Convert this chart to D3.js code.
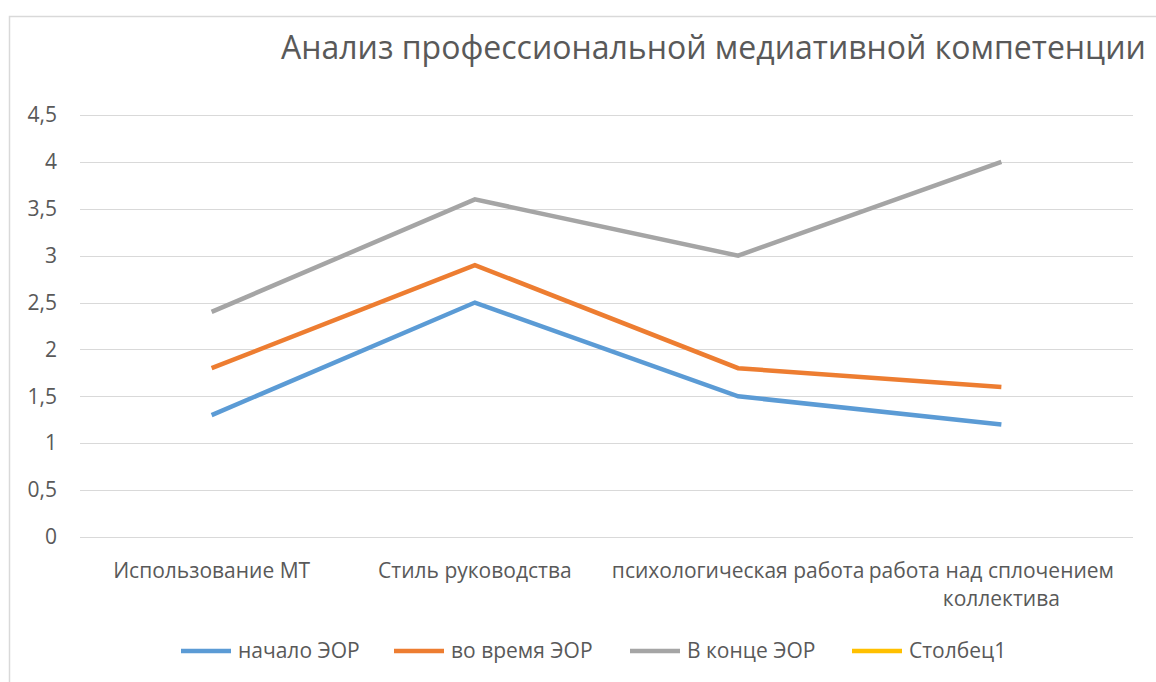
<!DOCTYPE html>
<html>
<head>
<meta charset="utf-8">
<script src="https://cdn.jsdelivr.net/npm/d3@7"></script>
<style>
  body { margin: 0; background: #fff; }
  svg { display: block; font-family: "Open Sans", sans-serif; }
</style>
</head>
<body>
<svg id="chart" width="1156" height="682"></svg>
<script>
// data
var categories = ["Использование МТ", "Стиль руководства", "психологическая работа", "работа над сплочением коллектива"];
var nachalo = [1.3, 2.5, 1.5, 1.2];
var voVremya = [1.8, 2.9, 1.8, 1.6];
var vKonce = [2.4, 3.6, 3.0, 4.0];
var stolbec1 = [null, null, null, null];
var seriesNames = ["начало ЭОР", "во время ЭОР", "В конце ЭОР", "Столбец1"];
var yTicks = [0, 0.5, 1, 1.5, 2, 2.5, 3, 3.5, 4, 4.5];

var colors = ["#5B9BD5", "#ED7D31", "#A5A5A5", "#FFC000"];
var allSeries = [nachalo, voVremya, vKonce, stolbec1];

var svg = d3.select("#chart");

// chart frame
svg.append("rect")
    .attr("x", 9.5).attr("y", 16.5)
    .attr("width", 1200).attr("height", 700)
    .attr("fill", "#fff")
    .attr("stroke", "#d9d9d9")
    .attr("stroke-width", 1.5);

var plotLeft = 80, plotRight = 1133, plotTop = 115, plotBottom = 537;

var x = d3.scaleBand().domain(categories).range([plotLeft, plotRight]);
var y = d3.scaleLinear().domain([0, 4.5]).range([plotBottom, plotTop]);

// gridlines
svg.append("g")
    .selectAll("line")
    .data(yTicks)
    .join("line")
      .attr("x1", plotLeft).attr("x2", plotRight)
      .attr("y1", function(d){ return Math.round(y(d)) + 0.5; })
      .attr("y2", function(d){ return Math.round(y(d)) + 0.5; })
      .attr("stroke", "#d9d9d9")
      .attr("stroke-width", 1);

// y axis labels
var yAxis = d3.axisLeft(y).tickValues(yTicks).tickSize(0).tickPadding(0)
    .tickFormat(function(d){ return String(d).replace(".", ","); });
var yg = svg.append("g").attr("transform", "translate(57,0)").call(yAxis);
yg.attr("font-family", null).attr("font-size", null);
yg.select(".domain").remove();
yg.selectAll("text").attr("fill", "#595959").style("font-size", "21px");

// x axis labels (last one wraps like excel does)
var xl = svg.append("g");
categories.forEach(function(c, i){
    var cx = x(c) + x.bandwidth() / 2;
    var lines = c == "работа над сплочением коллектива" ? ["работа над сплочением", "коллектива"] : [c];
    var t = xl.append("text")
        .attr("x", cx).attr("y", 578)
        .attr("text-anchor", "middle")
        .attr("fill", "#595959")
        .style("font-size", "21px");
    lines.forEach(function(l, j){
        var off = (lines.length > 1 && j == 0) ? -10 : 0;
        t.append("tspan").attr("x", cx + off).attr("dy", j == 0 ? 0 : 28).text(l);
    });
});

// lines
var line = d3.line()
    .defined(function(d){ return d != null; })
    .x(function(d, i){ return x(categories[i]) + x.bandwidth() / 2; })
    .y(function(d){ return y(d); });

svg.append("g")
    .selectAll("path")
    .data(allSeries)
    .join("path")
      .attr("d", function(d){ return line(d); })
      .attr("fill", "none")
      .attr("stroke", function(d, i){ return colors[i]; })
      .attr("stroke-width", 4.5)
      .attr("stroke-linejoin", "miter")
      .attr("stroke-linecap", "butt");

// title
svg.append("text")
    .attr("x", 281).attr("y", 59)
    .attr("fill", "#595959")
    .style("font-size", "32px")
    .text("Анализ профессиональной медиативной компетенции");

// legend
var legX = [181, 394, 630, 852];
var lg = svg.append("g");
seriesNames.forEach(function(n, i){
    lg.append("line")
        .attr("x1", legX[i]).attr("x2", legX[i] + 50)
        .attr("y1", 651).attr("y2", 651)
        .attr("stroke", colors[i]).attr("stroke-width", 4.5);
    lg.append("text")
        .attr("x", legX[i] + 57).attr("y", 658)
        .attr("fill", "#595959")
        .style("font-size", "21px")
        .text(n);
});
</script>
</body>
</html>
